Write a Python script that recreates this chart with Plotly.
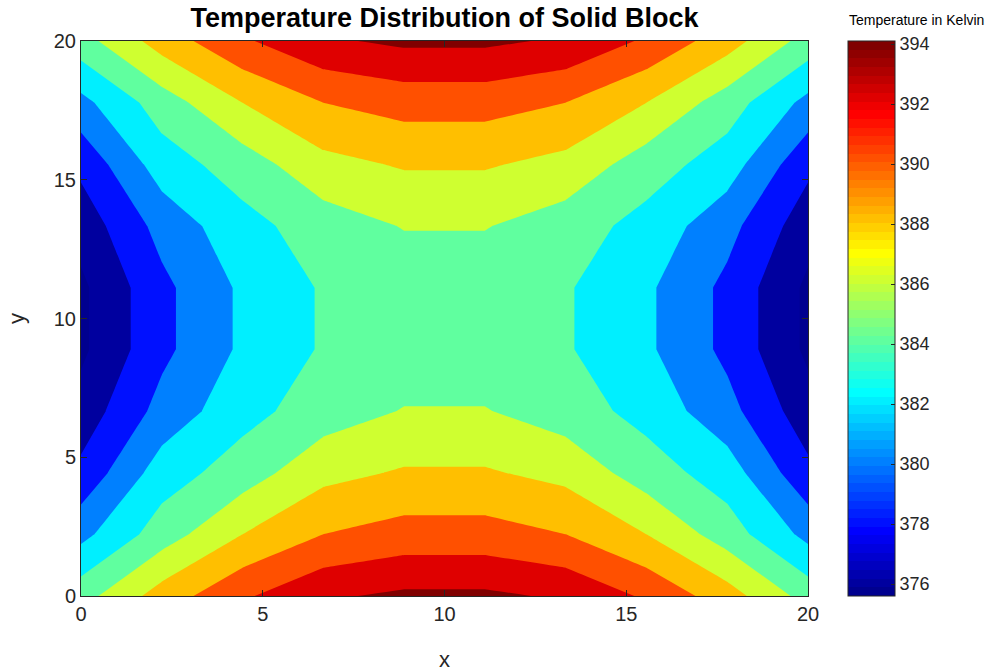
import numpy as np
import plotly.graph_objects as go

# Grid of the solid block (10 x 10 nodes over 20 x 20)
x_nodes = np.linspace(0, 20, 10)
y_nodes = np.linspace(0, 20, 10)

# Temperature in Kelvin at each node, one list per grid row (y = 0 ... 20)
row_y00 = [385.2, 388.9, 391.7, 393.7, 394.4, 394.4, 393.7, 391.7, 388.9, 385.2]
row_y02 = [381.4, 385.0, 388.0, 390.0, 390.8, 390.8, 390.0, 388.0, 385.0, 381.4]
row_y04 = [378.5, 383.0, 385.0, 387.4, 388.2, 388.2, 387.4, 385.0, 383.0, 378.5]
row_y07 = [376.8, 380.7, 383.3, 385.0, 386.1, 386.1, 385.0, 383.3, 380.7, 376.8]
row_y09 = [375.6, 379.5, 382.35, 384.2, 384.8, 384.8, 384.2, 382.35, 379.5, 375.6]
row_y11 = [375.6, 379.5, 382.35, 384.2, 384.8, 384.8, 384.2, 382.35, 379.5, 375.6]
row_y13 = [376.8, 380.7, 383.3, 385.0, 386.1, 386.1, 385.0, 383.3, 380.7, 376.8]
row_y16 = [378.5, 383.0, 385.0, 387.4, 388.2, 388.2, 387.4, 385.0, 383.0, 378.5]
row_y18 = [381.4, 385.0, 388.0, 390.0, 390.8, 390.8, 390.0, 388.0, 385.0, 381.4]
row_y20 = [385.2, 388.9, 391.7, 393.7, 394.4, 394.4, 393.7, 391.7, 388.9, 385.2]

temperature = [row_y00, row_y02, row_y04, row_y07, row_y09,
               row_y11, row_y13, row_y16, row_y18, row_y20]

# Contour levels and colour limits
level_start, level_end, level_step = 376, 394, 2
c_min, c_max = 375.6, 394.1
colorbar_ticks = [376, 378, 380, 382, 384, 386, 388, 390, 392, 394]

# Fill colour of each band, from "below 376" up to "above 394"
band_colors = [
    "rgb(0,0,143)", "rgb(0,0,159)", "rgb(0,16,255)", "rgb(0,128,255)",
    "rgb(0,239,255)", "rgb(96,255,159)", "rgb(207,255,48)", "rgb(255,191,0)",
    "rgb(255,80,0)", "rgb(223,0,0)", "rgb(128,0,0)",
]

FONT = "Liberation Sans, Arial, Helvetica, sans-serif"
TICK_COLOR = "#262626"


def jet(m=64):
    """MATLAB-style jet colormap with m entries, as (r, g, b) in 0..1."""
    n = int(np.ceil(m / 4))
    u = np.concatenate([np.arange(1, n + 1) / n, np.ones(n - 1), np.arange(n, 0, -1) / n])
    g = int(np.ceil(n / 2)) - (1 if m % 4 == 1 else 0) + np.arange(1, len(u) + 1)
    r = g + n
    b = g - n
    cmap = np.zeros((m, 3))
    for idx, val in zip(r, u):
        if 1 <= idx <= m:
            cmap[idx - 1, 0] = val
    for idx, val in zip(g, u):
        if 1 <= idx <= m:
            cmap[idx - 1, 1] = val
    for idx, val in zip(b, u):
        if 1 <= idx <= m:
            cmap[idx - 1, 2] = val
    return cmap


def rgb(c):
    return "rgb(%d,%d,%d)" % tuple(int(round(v * 255)) for v in c)


JET = jet(64)

# Stepped colour scale for the filled bands (one flat step per band)
n_bands = len(band_colors)
band_scale = []
for k, col in enumerate(band_colors):
    lo = max(0.0, (k - 0.5) / (n_bands - 1))
    hi = min(1.0, (k + 0.5) / (n_bands - 1))
    band_scale.append([lo, col])
    band_scale.append([hi, col])

# Stepped 64-colour scale for the colorbar
bar_scale = []
for k in range(64):
    col = rgb(JET[k])
    bar_scale.append([k / 64, col])
    bar_scale.append([(k + 1) / 64, col])

fig = go.Figure()

fig.add_trace(go.Contour(
    x=x_nodes,
    y=y_nodes,
    z=temperature,
    contours=dict(start=level_start, end=level_end, size=level_step,
                  coloring="fill", showlines=False),
    line=dict(width=0, smoothing=0),
    colorscale=band_scale,
    showscale=False,
    hoverinfo="skip",
))

# Continuous colorbar for the temperature scale
fig.add_trace(go.Scatter(
    x=[None], y=[None], mode="markers",
    marker=dict(color=[c_min], colorscale=bar_scale, cmin=c_min, cmax=c_max,
                showscale=True,
                colorbar=dict(
                    x=1.055, xanchor="left", xref="paper",
                    y=0.5, yanchor="middle", len=1.0, lenmode="fraction",
                    thickness=47, thicknessmode="pixels",
                    outlinewidth=1, outlinecolor="#262626",
                    ticks="inside", ticklen=4, tickcolor="#262626",
                    tickvals=colorbar_ticks,
                    tickfont=dict(family=FONT, size=18, color=TICK_COLOR),
                    xpad=0, ypad=0,
                )),
    showlegend=False, hoverinfo="skip",
))

axis_common = dict(
    range=[0, 20], tickvals=[0, 5, 10, 15, 20],
    showgrid=False, zeroline=False, automargin=False,
    showline=True, linecolor="#262626", linewidth=1, mirror="allticks",
    ticks="inside", ticklen=6, tickcolor="#262626",
    tickfont=dict(family=FONT, size=20, color=TICK_COLOR),
)

fig.update_layout(
    width=985, height=672,
    margin=dict(l=81, r=177, t=41, b=76, autoexpand=False),
    paper_bgcolor="white", plot_bgcolor="white",
    title=dict(text="<b>Temperature Distribution of Solid Block</b>",
               x=(81 + 727 / 2) / 985, xanchor="center",
               y=1 - 18 / 672, yanchor="middle",
               font=dict(family=FONT, size=27, color="black")),
    xaxis=dict(axis_common, title=dict(text="x", standoff=27,
                                       font=dict(family=FONT, size=22, color=TICK_COLOR))),
    yaxis=dict(axis_common, title=dict(text="y", standoff=23,
                                       font=dict(family=FONT, size=22, color=TICK_COLOR))),
    annotations=[dict(
        text="Temperature in Kelvin", xref="paper", yref="paper",
        x=(916 - 81) / 727, y=1 + 21 / 555, xanchor="center", yanchor="middle",
        showarrow=False, font=dict(family=FONT, size=14, color="black"),
    )],
)

fig.write_html("out.html")
